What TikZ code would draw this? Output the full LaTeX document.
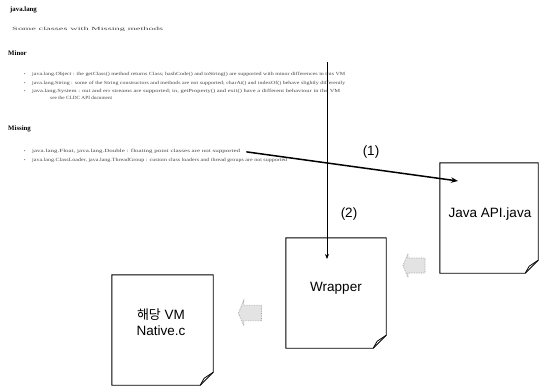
\documentclass[tikz,border=0pt]{standalone}
\usepackage{fontspec}
\setmainfont{Liberation Serif}
\newfontfamily\sansf{Liberation Sans}
\newfontfamily\krf{Noto Sans CJK KR}
\usetikzlibrary{arrows.meta}
\newcommand\tline[2]{\resizebox{#1}{3.3pt}{#2}}
\begin{document}
\begin{tikzpicture}[x=1pt,y=-1pt,
  head/.style={font=\fontsize{6.8}{7}\selectfont\bfseries, anchor=base west, inner sep=0pt},
  body/.style={font=\fontsize{4}{5}\selectfont, text=black!72, anchor=base west, inner sep=0pt},
  bul/.style={font=\fontsize{4}{5}\selectfont, text=black!85, anchor=base west, inner sep=0pt},
  docbox/.style={draw=none, inner sep=0pt},
  docline/.style={draw=black, line width=0.9pt, line join=miter},
  lbl/.style={font=\sansf\fontsize{13.5}{17}\selectfont, align=center, inner sep=1pt},
  thick arrow/.style={line width=1.5pt, -{Stealth[length=7pt,width=5.5pt]}},
  thin arrow/.style={line width=1pt, -{Stealth[length=5pt,width=4pt]}},
  barrow/.pic={\draw[gray!75, densely dotted, fill=gray!22, line width=0.7pt]
     (-11,0) -- (-6,-12) -- (-6,-7.5) -- (11,-7.5) -- (11,7.5) -- (-6,7.5) -- (-6,12) -- cycle;}
]
\useasboundingbox (0,0) rectangle (539,388);

% ---- text part ----
\node[head] (h1) at (10,12) {java.lang};
\node[body] (intro) at (12,30) {\tline{151pt}{Some classes with Missing methods}};
\node[head] (h2) at (8,55) {Minor};
\node[bul] (b1) at (24,75) {•};
\node[body] (m1) at (32,75) {\tline{313pt}{java.lang.Object : the getClass() method returns Class; hashCode() and toString() are supported with minor differences in this VM}};
\node[bul] (b2) at (24,84) {•};
\node[body] (m2) at (32,84) {\tline{313pt}{java.lang.String : some of the String constructors and methods are not supported; charAt() and indexOf() behave slightly differently}};
\node[bul] (b3) at (24,92) {•};
\node[body] (m3) at (32,92) {\tline{308pt}{java.lang.System : out and err streams are supported; in, getProperty() and exit() have a different behaviour in the VM}};
\node[body] (m4) at (50,99) {\tline{62pt}{see the CLDC API document}};
\node[head] (h3) at (8,130) {Missing};
\node[bul] (b4) at (24,152) {•};
\node[body] (s1) at (32,152) {\tline{208pt}{java.lang.Float, java.lang.Double : floating point classes are not supported}};
\node[bul] (b5) at (24,161) {•};
\node[body] (s2) at (32,161) {\tline{255pt}{java.lang.ClassLoader, java.lang.ThreadGroup : custom class loaders and thread groups are not supported}};

% ---- documents ----
\node[docbox, minimum width=98pt, minimum height=110pt] (java) at (489,218) {};
\node[docbox, minimum width=100pt, minimum height=110pt] (wrap) at (336,293) {};
\node[docbox, minimum width=101pt, minimum height=110pt] (nat) at (162.5,330) {};
\foreach \n in {java,wrap,nat}{
  \draw[docline] (\n.north west) -- (\n.north east) -- ([yshift=13pt]\n.south east)
     -- ([xshift=-13pt]\n.south east) -- (\n.south west) -- cycle;
  \draw[line width=0.8pt, line join=round] ([yshift=13pt]\n.south east) -- ([xshift=-9pt,yshift=7pt]\n.south east)
     -- ([xshift=-13pt]\n.south east);
}
\node[lbl] (javat) at (490,214) {Java API.java};
\node[lbl] (wrapt) at (336,288) {Wrapper};
\node[lbl] (natt) at (161,322) {{\krf\fontsize{13}{17}\selectfont 해당} VM\\[-1pt]Native.c};

% ---- block arrows ----
\pic at (414,265.5) {barrow};
\pic[scale=1.05] at (250,313) {barrow};

% ---- connectors ----
\coordinate (a1e) at (458,181);
\coordinate (a2s) at (327,62);
\coordinate (a2e) at (327,259);
\draw[thick arrow] ([xshift=6pt,yshift=-1pt]s1.east) -- (a1e);
\draw[thin arrow] (a2s) -- (a2e);
\node[lbl] (l1) at (371,152) {(1)};
\node[lbl] (l2) at (349,214) {(2)};
\end{tikzpicture}
\end{document}
